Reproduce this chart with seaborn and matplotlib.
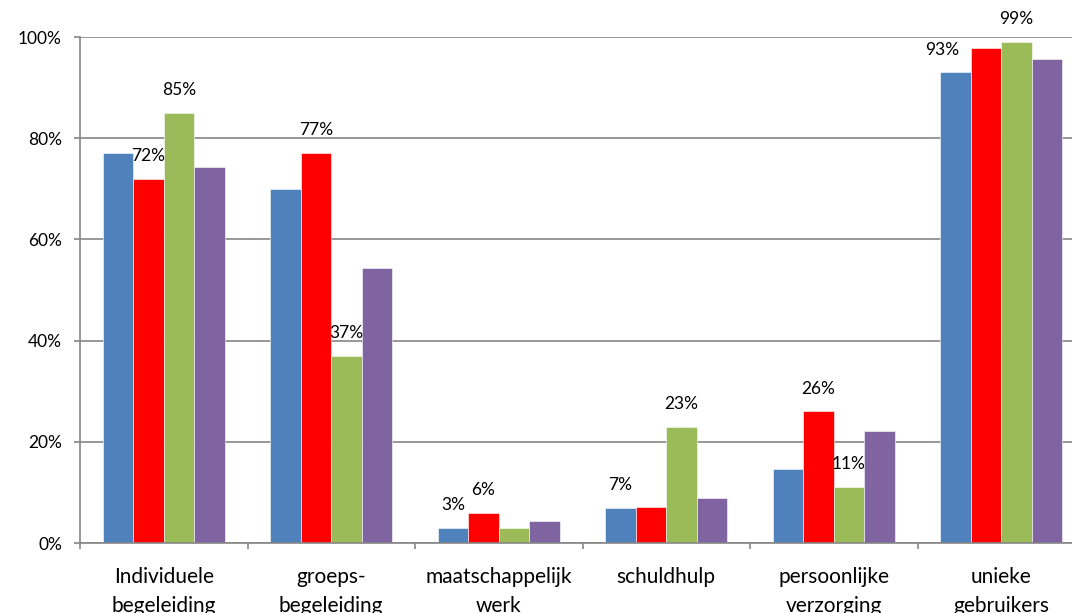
import matplotlib
matplotlib.use("Agg")
import matplotlib.pyplot as plt
import matplotlib.ticker as mticker
import numpy as np
import pandas as pd
import seaborn as sns

# Categories and series values (percent)
categories = ["Individuele\nbegeleiding", "groeps-\nbegeleiding", "maatschappelijk\nwerk",
              "schuldhulp", "persoonlijke\nverzorging", "unieke\ngebruikers"]
series_names = ["reeks 1", "reeks 2", "reeks 3", "reeks 4"]
values_1 = [77.0, 70.0, 3, 7, 14.7, 93]
values_2 = [72, 77, 6, 7.2, 26, 97.9]
values_3 = [85, 37, 3.0, 23, 11, 99]
values_4 = [74.4, 54.3, 4.4, 8.9, 22.2, 95.6]

# Which bars carry a value label
labels_1 = [False, False, True, True, False, True]
labels_2 = [True, True, True, False, True, False]
labels_3 = [True, True, False, True, True, True]
labels_4 = [False, False, False, False, False, False]

y_ticks = [0, 20, 40, 60, 80, 100]
colors = ["#4F81BD", "#FF0000", "#9BBB59", "#8064A2"]

all_values = [values_1, values_2, values_3, values_4]
all_labels = [labels_1, labels_2, labels_3, labels_4]

df = pd.DataFrame({
    "categorie": np.tile(categories, len(series_names)),
    "reeks": np.repeat(series_names, len(categories)),
    "waarde": np.concatenate(all_values),
})

sns.set_style("white")
plt.rcParams["font.family"] = ["Lato", "DejaVu Sans"]

fig = plt.figure(figsize=(10.72, 6.13), dpi=100)
ax = fig.add_axes([80 / 1072, 70 / 613, 1005 / 1072, 506 / 613])

sns.barplot(data=df, x="categorie", y="waarde", hue="reeks", order=categories,
            hue_order=series_names, palette=colors, width=0.73, errorbar=None,
            saturation=1, legend=False, ax=ax, edgecolor="white", linewidth=0.4)

grid_col = "#868686"
ax.set_xlim(-0.5, len(categories) - 0.5)
ax.set_ylim(0, 100)
ax.set_axisbelow(True)
ax.yaxis.grid(True, color=grid_col, linewidth=1.2)
ax.xaxis.grid(False)
for side in ["top", "right"]:
    ax.spines[side].set_visible(False)
for side in ["left", "bottom"]:
    ax.spines[side].set_color(grid_col)
    ax.spines[side].set_linewidth(1.2)

ax.set_yticks(y_ticks)
ax.yaxis.set_major_formatter(mticker.FuncFormatter(lambda v, p: f"{v:.0f}%"))
ax.tick_params(axis="y", length=4.5, width=1.2, color=grid_col, pad=8.5,
               labelsize=12.5, labelcolor="black", left=True)

# Category labels centred, tick marks on the category boundaries
ax.set_xticks(range(len(categories)))
ax.set_xticklabels(categories, fontsize=15, linespacing=1.55)
ax.set_xticks(np.arange(-0.5, len(categories), 1.0), minor=True)
ax.tick_params(axis="x", which="major", length=0, pad=17.5, labelcolor="black")
ax.tick_params(axis="x", which="minor", length=4.5, width=1.2, color=grid_col, bottom=True)
ax.set_xlabel("")
ax.set_ylabel("")

# Value labels above selected bars
nudge_x = {(0, 5): -9.5}
for s, container in enumerate(ax.containers):
    for c, bar in enumerate(container):
        if not all_labels[s][c]:
            continue
        v = all_values[s][c]
        ax.annotate(f"{v:.0f}%", (bar.get_x() + bar.get_width() / 2, bar.get_height()),
                    xytext=(nudge_x.get((s, c), 0), 16.5), textcoords="offset points",
                    ha="center", va="center", fontsize=12.5, color="black")

fig.savefig("out.png", dpi=100)
